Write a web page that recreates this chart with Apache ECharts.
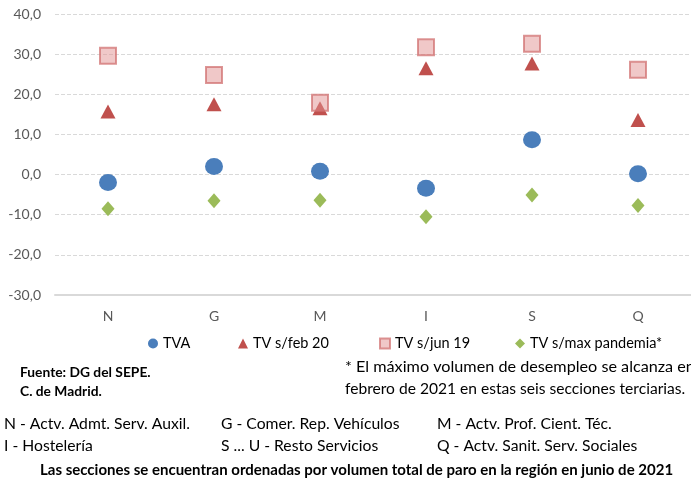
<!DOCTYPE html>
<html><head><meta charset="utf-8">
<script src="https://cdn.jsdelivr.net/npm/echarts@6/dist/echarts.min.js"></script>
<style>html,body{margin:0;padding:0;background:#fff}#c{width:691px;height:482px}</style>
</head><body><div id="c"></div>
<script>
const categories = ['N','G','M','I','S','Q'];
const tva = [-2.0, 2.0, 0.8, -3.4, 8.7, 0.2];
const tvFeb20 = [15.7, 17.5, 16.5, 26.5, 27.7, 13.6];
const tvJun19 = [29.6, 24.8, 17.9, 31.7, 32.6, 26.1];
const tvMaxPandemia = [-8.5, -6.5, -6.4, -10.5, -5.1, -7.7];
const yTicks = [-30, -20, -10, 0, 10, 20, 30, 40];

const FONT = 'Lato';
const chart = echarts.init(document.getElementById('c'), null, {renderer:'canvas'});
const blue = '#4A7EBB', red = '#C0504D', pinkFill = 'rgba(225,145,145,0.5)', pinkBorder = 'rgba(210,115,115,0.75)', green = '#9BBB59';
const legendBase = {top: 331, itemWidth: 10, itemHeight: 10, itemGap: 4,
  textStyle: {fontFamily: FONT, fontSize: 14.5, color: '#000'}, selectedMode: false};
function txt(x, y, s, opts) {
  return Object.assign({type:'text', left:x, top:y, silent:true,
    style: Object.assign({text:s, font:'15.7px ' + FONT, fill:'#000'}, opts||{})});
}
chart.setOption({
  animation: false,
  grid: {left: 55, right: 0, top: 14, bottom: 187},
  xAxis: [{type:'category', data: categories, boundaryGap: true,
    axisLine:{show:false}, axisTick:{show:false},
    axisLabel:{fontFamily: FONT, fontSize:14, color:'#595959', margin:14}},
    {type:'category', data: categories, position:'bottom', axisLine:{show:true, onZero:true, lineStyle:{color:'#D9D9D9', width:2}},
    axisTick:{show:false}, axisLabel:{show:false}}],
  yAxis: {type:'value', min: yTicks[0], max: yTicks[yTicks.length-1], interval: 10,
    axisLine:{show:false}, axisTick:{show:false},
    splitLine:{lineStyle:{color:'#D9D9D9', type:[4,2], width:1}},
    axisLabel:{fontFamily: FONT, fontSize:14, color:'#595959', margin:14,
      formatter: v => v.toFixed(1).replace('.', ',')}},
  legend: [
    Object.assign({}, legendBase, {left: 143, data:[{name:'TVA', icon:'circle'}]}),
    Object.assign({}, legendBase, {left: 233, data:[{name:'TV s/feb 20', icon:'triangle'}]}),
    Object.assign({}, legendBase, {left: 374, data:[{name:'TV s/jun 19', icon:'rect'}]}),
    Object.assign({}, legendBase, {left: 510, data:[{name:'TV s/max pandemia*', icon:'diamond'}]})
  ],
  series: [
    {name:'TVA', type:'scatter', data: tva, symbol:'circle', symbolSize:[18,17], z:3,
      itemStyle:{color: blue, opacity:1}},
    {name:'TV s/feb 20', type:'scatter', data: tvFeb20, symbol:'triangle', symbolSize:[15,14], z:3,
      itemStyle:{color: red, opacity:1}},
    {name:'TV s/jun 19', type:'scatter', data: tvJun19, symbol:'rect', symbolSize:16, z:4,
      itemStyle:{color: pinkFill, borderColor: pinkBorder, borderWidth: 2, opacity:1}},
    {name:'TV s/max pandemia*', type:'scatter', data: tvMaxPandemia, symbol:'diamond', symbolSize:[13,15], z:4,
      itemStyle:{color: green, opacity:1}}
  ],
  graphic: [
    txt(20, 366, 'Fuente: DG del SEPE.', {font:'bold 13.8px ' + FONT}),
    txt(20, 385, 'C. de Madrid.', {font:'bold 13.8px ' + FONT}),
    txt(345, 359, '* El máximo volumen de desempleo se alcanza en', {font:'16.2px ' + FONT}),
    txt(345, 381, 'febrero de 2021 en estas seis secciones terciarias.', {font:'15.6px ' + FONT}),
    txt(4, 416, 'N - Actv. Admt. Serv. Auxil.'),
    txt(221, 416, 'G - Comer. Rep. Vehículos'),
    txt(437, 416, 'M - Actv. Prof. Cient. Téc.'),
    txt(4, 438, 'I - Hostelería'),
    txt(221, 438, 'S ... U - Resto Servicios'),
    txt(437, 438, 'Q - Actv. Sanit. Serv. Sociales'),
    txt(40, 463, 'Las secciones se encuentran ordenadas por volumen total de paro en la región en junio de 2021', {font:'bold 15px ' + FONT})
  ]
});
</script></body></html>
